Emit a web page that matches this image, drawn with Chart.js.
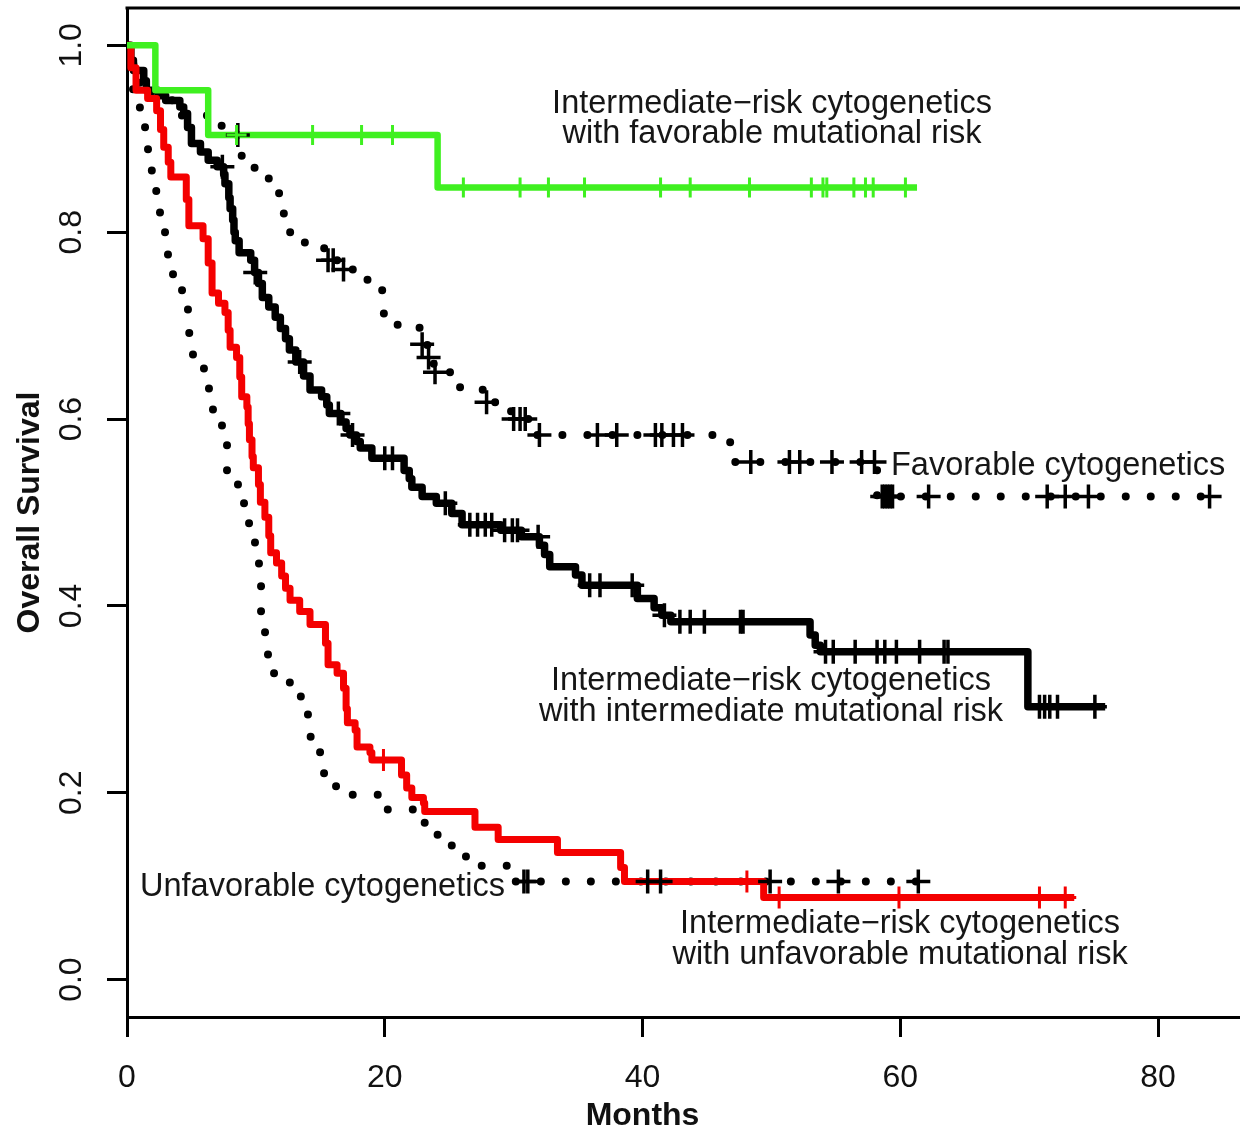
<!DOCTYPE html>
<html>
<head>
<meta charset="utf-8">
<script src="https://cdn.jsdelivr.net/npm/chart.js@4.4.1/dist/chart.umd.min.js"></script>
<style>
  html, body { margin: 0; padding: 0; background: #fff; }
  #wrap { width: 1240px; height: 1129px; }
</style>
</head>
<body>
<div id="wrap"><canvas id="km"></canvas></div>
<script>
// axis ticks
const xTicks = [0, 20, 40, 60, 80];
const yTicks = [0, 0.2, 0.4, 0.6, 0.8, 1.0];

// [month, survival] at each event
const favMutSteps = [[2.2, 0.952], [6.3, 0.904], [24.1, 0.848]];
const favMutEnd = 61.3;
const favMutCensor = [8.5, 14.4, 18.2, 20.6, 26.1, 30.5, 32.7, 35.5, 41.4, 43.7, 48.3, 53.1, 54.0, 54.3, 56.4, 57.3, 57.9, 60.4];

const intMutSteps = [
  [0.3, 0.984], [0.5, 0.973], [1.3, 0.962], [1.5, 0.952], [2.4, 0.946], [3.0, 0.941], [4.1, 0.934],
  [4.4, 0.927], [4.7, 0.912], [5.0, 0.895], [5.7, 0.886], [6.3, 0.877], [7.0, 0.87], [7.5, 0.862],
  [7.6, 0.852], [7.9, 0.837], [8.0, 0.825], [8.2, 0.813], [8.3, 0.80], [8.4, 0.791], [8.7, 0.778],
  [9.6, 0.77], [9.9, 0.757], [10.2, 0.745], [10.5, 0.73], [11.0, 0.72], [11.5, 0.709], [11.9, 0.697],
  [12.3, 0.686], [12.6, 0.674], [13.1, 0.661], [13.7, 0.646], [14.2, 0.631], [15.1, 0.624], [15.5, 0.615],
  [15.7, 0.606], [16.6, 0.597], [17.0, 0.59], [17.3, 0.583], [17.8, 0.576], [18.1, 0.569], [19.0, 0.558],
  [21.5, 0.545], [21.9, 0.536], [22.1, 0.527], [22.9, 0.517], [24.0, 0.51], [25.2, 0.499], [26.0, 0.487],
  [29.0, 0.481], [30.6, 0.474], [32.0, 0.465], [32.4, 0.455], [32.8, 0.442], [34.8, 0.433], [35.3, 0.422],
  [39.6, 0.408], [40.9, 0.398], [41.5, 0.39], [42.2, 0.383], [53.0, 0.369], [53.4, 0.358], [53.8, 0.351],
  [69.9, 0.292]
];
const intMutEnd = 75.9;
const intMutCensor = [7.4, 9.95, 13.4, 16.4, 17.5, 20.0, 20.6, 24.7, 26.6, 27.2, 27.8, 28.3, 29.3, 29.9, 30.3,
  31.9, 35.9, 36.7, 39.2, 41.7, 42.9, 43.7, 44.8, 47.6, 47.8, 54.2, 54.8, 56.5, 58.2, 58.8, 59.7, 61.5, 63.4,
  63.7, 70.8, 71.2, 71.6, 72.2, 75.1];

const unfMutSteps = [
  [0.3, 0.976], [0.7, 0.952], [1.6, 0.943], [2.3, 0.93], [2.6, 0.91], [2.85, 0.891], [3.2, 0.875],
  [3.4, 0.859], [4.6, 0.835], [4.8, 0.807], [5.9, 0.793], [6.3, 0.767], [6.6, 0.735], [7.1, 0.724],
  [7.6, 0.714], [7.85, 0.695], [8.0, 0.677], [8.5, 0.666], [8.75, 0.645], [8.9, 0.624], [9.3, 0.613],
  [9.4, 0.595], [9.5, 0.578], [9.7, 0.56], [9.8, 0.548], [10.2, 0.53], [10.35, 0.511], [10.7, 0.495],
  [11.0, 0.475], [11.15, 0.457], [11.6, 0.446], [12.0, 0.432], [12.3, 0.419], [12.65, 0.406], [13.4, 0.394],
  [14.2, 0.38], [15.4, 0.36], [15.6, 0.337], [16.3, 0.328], [16.8, 0.312], [17.0, 0.29], [17.1, 0.275],
  [17.7, 0.267], [17.85, 0.249], [18.85, 0.243], [19.0, 0.235], [21.3, 0.219], [21.7, 0.205], [22.1, 0.195],
  [23.0, 0.189], [23.1, 0.18], [27.0, 0.163], [28.8, 0.15], [33.4, 0.136], [38.3, 0.12], [38.6, 0.105],
  [49.4, 0.088]
];
const unfMutEnd = 73.5;
const unfMutCensor = [19.9, 48.1, 50.6, 59.9, 70.8, 72.8];

const favCytoSteps = [
  [0.3, 0.98], [0.8, 0.96], [1.5, 0.945], [3.5, 0.925], [7.3, 0.914], [7.8, 0.904], [8.9, 0.875],
  [9.9, 0.858], [11.0, 0.843], [11.8, 0.82], [12.6, 0.80], [13.8, 0.786], [15.3, 0.77], [16.6, 0.76],
  [17.6, 0.749], [19.0, 0.741], [19.8, 0.713], [21.0, 0.70], [22.7, 0.68], [23.3, 0.666], [23.8, 0.65],
  [25.3, 0.634], [27.6, 0.618], [29.8, 0.60], [31.7, 0.583], [46.8, 0.554], [58.2, 0.517]
];
const favCytoEnd = 84.0;
const favCytoCensor = [8.6, 15.6, 16.0, 16.8, 22.9, 23.4, 23.9, 27.9, 30.0, 30.5, 30.9, 32.0, 36.5, 38.0,
  41.0, 41.5, 42.4, 43.1, 48.4, 51.4, 52.2, 54.7, 57.0, 58.0, 58.6, 58.8, 59.0, 59.2, 59.4, 62.2, 71.4,
  72.8, 74.6, 84.0];

const unfCytoSteps = [
  [0.23, 0.98], [0.47, 0.945], [1.0, 0.92], [1.4, 0.895], [1.63, 0.866], [2.17, 0.844], [2.56, 0.816],
  [2.95, 0.791], [3.18, 0.763], [3.57, 0.739], [4.27, 0.72], [4.73, 0.692], [5.12, 0.666], [5.97, 0.648],
  [6.36, 0.62], [6.67, 0.594], [7.37, 0.575], [7.76, 0.545], [8.61, 0.529], [9.08, 0.503], [9.47, 0.476],
  [9.93, 0.453], [10.24, 0.425], [10.4, 0.394], [10.71, 0.368], [10.94, 0.34], [11.41, 0.318], [12.65, 0.303],
  [13.58, 0.286], [14.04, 0.26], [14.98, 0.242], [15.29, 0.213], [16.22, 0.198], [19.5, 0.182], [22.9, 0.168],
  [24.1, 0.152], [25.2, 0.136], [26.3, 0.122], [29.7, 0.105]
];
const unfCytoEnd = 61.4;
const unfCytoCensor = [30.8, 31.1, 40.4, 41.4, 49.9, 55.2, 61.4];

function survAt(steps, t) {
  let s = 1;
  for (const [m, v] of steps) if (m <= t) s = v;
  return s;
}
function curve(steps, end) {
  const pts = [{ x: 0, y: 1 }];
  steps.forEach(([m, v]) => pts.push({ x: m, y: v }));
  pts.push({ x: end, y: steps[steps.length - 1][1] });
  return pts;
}
function censor(steps, times) {
  return times.map(t => ({ x: t, y: survAt(steps, t) }));
}

const GREEN = '#3ff020';
const RED = '#f40000';
const FONT = "'Liberation Sans', Arial, Helvetica, sans-serif";

function kmLine(data, color, width) {
  return { type: 'line', data, borderColor: color, borderWidth: width, stepped: true,
    pointRadius: 0, fill: false, borderJoinStyle: 'round', borderCapStyle: 'butt' };
}
function dotLine(data) {
  return { type: 'line', data, borderColor: '#000', borderWidth: 8, stepped: true,
    pointRadius: 0, fill: false, borderDash: [0, 25], borderCapStyle: 'round' };
}
function marks(data, color, r, w) {
  return { type: 'line', data, showLine: false, pointStyle: 'cross', pointRadius: r,
    pointBorderWidth: w, pointBorderColor: color, borderColor: color };
}

// text labels placed in data units
const notes = [
  { lines: ['Intermediate\u2212risk cytogenetics', 'with favorable mutational risk'], x: 50.05, y: [0.928, 0.895], align: 'center' },
  { lines: ['Favorable cytogenetics'], x: 59.28, y: [0.540], align: 'left' },
  { lines: ['Intermediate\u2212risk cytogenetics', 'with intermediate mutational risk'], x: 49.97, y: [0.310, 0.277], align: 'center' },
  { lines: ['Unfavorable cytogenetics'], x: 1.01, y: [0.0898], align: 'left' },
  { lines: ['Intermediate\u2212risk cytogenetics', 'with unfavorable mutational risk'], x: 59.98, y: [0.0503, 0.0171], align: 'center' }
];

const frame = {
  id: 'frame',
  afterDraw(chart) {
    const { ctx, chartArea, scales } = chart;
    ctx.save();
    ctx.strokeStyle = '#000';
    ctx.lineWidth = 3;
    ctx.beginPath();
    ctx.moveTo(chartArea.left - 1.5, chartArea.top);
    ctx.lineTo(chartArea.right + 2, chartArea.top);
    ctx.stroke();
    ctx.fillStyle = '#161616';
    ctx.font = '32.5px ' + FONT;
    ctx.textBaseline = 'alphabetic';
    notes.forEach(n => {
      ctx.textAlign = n.align;
      n.lines.forEach((txt, i) => {
        ctx.fillText(txt, scales.x.getPixelForValue(n.x), scales.y.getPixelForValue(n.y[i]));
      });
    });
    // x axis title, centred under 40 months as in the source figure
    ctx.fillStyle = '#111';
    ctx.font = 'bold 32px ' + FONT;
    ctx.textAlign = 'center';
    ctx.fillText('Months', scales.x.getPixelForValue(40), scales.x.bottom - 4);
    ctx.restore();
  }
};

function noPad(s) {
  s.paddingTop = 0; s.paddingBottom = 0; s.paddingLeft = 0; s.paddingRight = 0;
}

new Chart(document.getElementById('km'), {
  type: 'line',
  data: {
    datasets: [
      marks(censor(favMutSteps, favMutCensor), GREEN, 10, 3),
      marks(censor(unfMutSteps, unfMutCensor), RED, 11, 3),
      marks(censor(intMutSteps, intMutCensor), '#000', 12, 3.5),
      marks(censor(favCytoSteps, favCytoCensor), '#000', 12, 3.5),
      marks(censor(unfCytoSteps, unfCytoCensor), '#000', 12, 3.5),
      kmLine(curve(favMutSteps, favMutEnd), GREEN, 6.5),
      kmLine(curve(unfMutSteps, unfMutEnd), RED, 7),
      kmLine(curve(intMutSteps, intMutEnd), '#000', 7.5),
      dotLine(curve(favCytoSteps, favCytoEnd)),
      dotLine(curve(unfCytoSteps, unfCytoEnd))
    ]
  },
  options: {
    responsive: true,
    maintainAspectRatio: false,
    animation: false,
    events: [],
    layout: { autoPadding: false, padding: { top: 8, left: 0, right: 0, bottom: 0 } },
    plugins: { legend: { display: false }, tooltip: { enabled: false } },
    scales: {
      x: {
        type: 'linear', min: 0, max: 86.36,
        afterBuildTicks: s => { s.ticks = xTicks.map(v => ({ value: v })); },
        afterFit: s => { s.height = 112; noPad(s); },
        grid: { drawOnChartArea: false, tickLength: 20, lineWidth: 3, color: '#000' },
        border: { display: true, color: '#000', width: 3 },
        ticks: { font: { size: 32, family: FONT }, color: '#111', padding: 22, maxRotation: 0 },
        title: { display: false }
      },
      y: {
        type: 'linear', min: -0.04, max: 1.04,
        afterBuildTicks: s => { s.ticks = yTicks.map(v => ({ value: v })); },
        afterFit: s => { s.width = 127; noPad(s); },
        grid: { drawOnChartArea: false, tickLength: 20, lineWidth: 3, color: '#000' },
        border: { display: true, color: '#000', width: 3 },
        ticks: { font: { size: 32, family: FONT }, color: '#111', padding: 13,
          minRotation: 90, maxRotation: 90, crossAlign: 'center',
          callback: v => Number(v).toFixed(1) },
        title: { display: true, text: 'Overall Survival', color: '#111',
          font: { size: 32, weight: 'bold', family: FONT }, padding: { top: 11, bottom: 0 } }
      }
    }
  },
  plugins: [frame]
});
</script>
</body>
</html>
